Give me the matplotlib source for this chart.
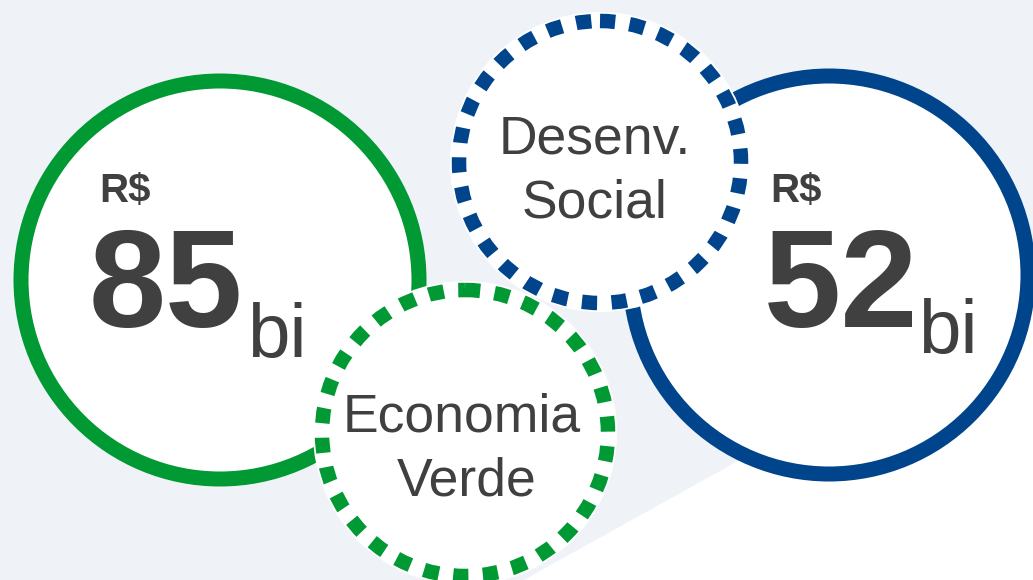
"""Two investment amounts (R$ bi) shown as rings with dotted theme labels."""

import matplotlib.pyplot as plt
from matplotlib.patches import Circle, Polygon

# Data
amounts = [85, 52]
currency = "R$"
unit = "bi"
theme_lines = [["Economia", "Verde"], ["Desenv.", "Social"]]

# Style
GREEN = "#009933"
BLUE = "#00458b"
TEXT = "#404040"
BG = "#eff3f7"
plt.rcParams["font.family"] = ["Liberation Sans", "DejaVu Sans"]

W, H = 1033, 580
fig = plt.figure(figsize=(W / 100, H / 100), dpi=100)
ax = fig.add_axes([0, 0, 1, 1])
ax.set_xlim(0, W)
ax.set_ylim(H, 0)
ax.set_aspect("equal")
ax.axis("off")

px = 72 / 100  # pixels -> points

# background: light panel with white corner at bottom right
ax.add_patch(Polygon([(0, 0), (W, 0), (W, H), (0, H)], color=BG, zorder=0))
ax.add_patch(Polygon([(525, H), (W, 298), (W, H)], color="white", zorder=0))

# big solid rings (one per amount)
rings = [((220, 280), GREEN), ((829, 275), BLUE)]
for (c, col) in rings:
    ax.add_patch(Circle(c, 199, facecolor="white", edgecolor=col,
                        linewidth=15 * px, zorder=1))

# dotted theme circles
dotted = [((465, 433), 143, GREEN), ((600, 162), 141, BLUE)]
for i, (c, r, col) in enumerate(dotted):
    ax.add_patch(Circle(c, r + 9, facecolor="white", edgecolor="none", zorder=2 + i))
    ax.add_patch(Circle(c, r, facecolor="none", edgecolor=col,
                        linewidth=14.5 * px, linestyle=(0, (1.05, 1.0)),
                        capstyle="butt", zorder=2 + i))

# amount labels
amount_pos = [(99, 89, 247, 357), (770, 764, 918, 353)]
for val, (x_cur, x_num, x_unit, y_unit) in zip(amounts, amount_pos):
    ax.text(x_cur, 202, currency, fontsize=29, fontweight="bold", color=TEXT,
            va="baseline", ha="left", zorder=5)
    ax.text(x_num, 327, str(val), fontsize=100, fontweight="bold", color=TEXT,
            va="baseline", ha="left", zorder=5)
    ax.text(x_unit, y_unit, unit, fontsize=55, color=TEXT,
            va="baseline", ha="left", zorder=5)

# theme labels
theme_pos = [[(462, 432), (467, 495)], [(595, 153), (595, 217)]]
for lines, positions in zip(theme_lines, theme_pos):
    for txt, (x, y) in zip(lines, positions):
        ax.text(x, y, txt, fontsize=38.5, color=TEXT, va="baseline",
                ha="center", zorder=5)

fig.savefig("out.png", dpi=100)
